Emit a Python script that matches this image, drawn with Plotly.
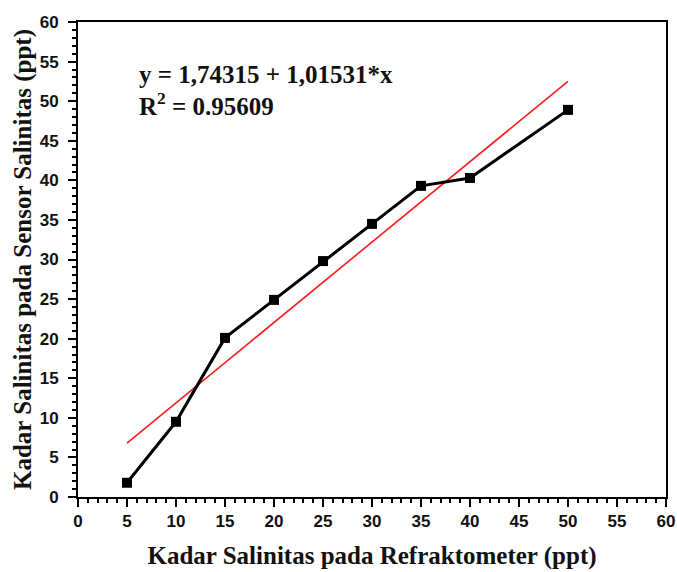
import plotly.graph_objects as go

x_ref = [5, 10, 15, 20, 25, 30, 35, 40, 50]
y_sensor = [1.8, 9.5, 20.1, 24.9, 29.8, 34.5, 39.3, 40.3, 48.9]
intercept = 1.74315
slope = 1.01531
r2 = 0.95609
fit_x = [5, 50]
fit_y = [intercept + slope * v for v in fit_x]

fig = go.Figure()
fig.add_trace(go.Scatter(x=fit_x, y=fit_y, mode="lines",
                         line=dict(color="#ff1a1a", width=1.6), showlegend=False))
fig.add_trace(go.Scatter(x=x_ref, y=y_sensor, mode="lines+markers",
                         line=dict(color="black", width=3),
                         marker=dict(symbol="square", size=10, color="black"),
                         showlegend=False))

axis_common = dict(
    showline=True, linecolor="black", linewidth=2, mirror=True,
    ticks="outside", ticklen=8, tickwidth=2, tickcolor="black",
    showgrid=False, zeroline=False, dtick=5, automargin=False,
    tickfont=dict(family="Liberation Sans", size=17, color="#111", weight="bold"),
    minor=dict(ticks="outside", ticklen=4, tickwidth=1.5, dtick=1, tickcolor="black"),
)
title_font = dict(family="Liberation Serif", size=25, color="#111", weight="bold")

fig.update_xaxes(range=[0, 60], title=dict(text="Kadar Salinitas pada Refraktometer (ppt)",
                 font=title_font, standoff=16), **axis_common)
fig.update_yaxes(range=[0, 60], title=dict(text="Kadar Salinitas pada Sensor Salinitas (ppt)",
                 font=title_font, standoff=1), ticklabelstandoff=6, **axis_common)

ann_font = dict(family="Liberation Serif", size=25, color="#111", weight="bold")
fig.add_annotation(x=6.0, y=53.4, xref="x", yref="y", xanchor="left", yanchor="middle",
                   showarrow=False,
                   text=f"y = {str(intercept).replace('.', ',')} + {str(slope).replace('.', ',')}*x",
                   font=ann_font)
fig.add_annotation(x=6.0, y=49.7, xref="x", yref="y", xanchor="left", yanchor="middle",
                   showarrow=False,
                   text=f"R<sup>2</sup> = {r2}",
                   font=ann_font)

fig.update_layout(width=677, height=572, margin=dict(l=78, r=11, t=22, b=75),
                  plot_bgcolor="white", paper_bgcolor="white")
fig.write_html("out.html")
